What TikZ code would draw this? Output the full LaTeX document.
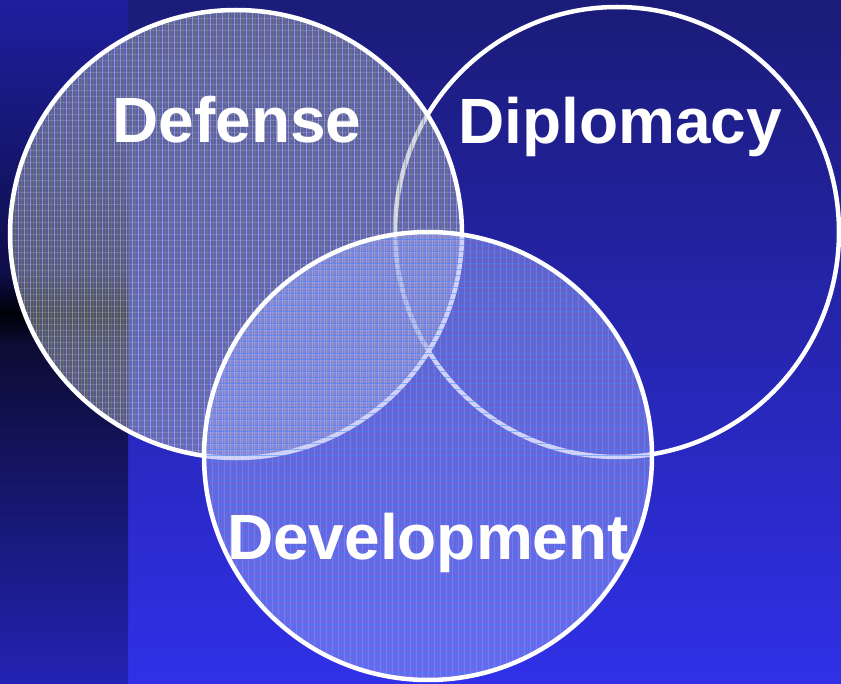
\documentclass[tikz,border=0pt]{standalone}
\usepackage{fontspec}
\setmainfont{Liberation Sans}
\begin{document}
\begin{tikzpicture}[x=1pt,y=-1pt,
  ring/.style={draw=white,line width=4.5pt},
  label/.style={text=white,font=\fontsize{64}{70}\selectfont\bfseries,anchor=base,inner sep=0pt}]
\definecolor{bgtop}{HTML}{1B1B78}
\definecolor{bgbot}{HTML}{3030E8}
\definecolor{ltop}{HTML}{1F1FA0}
\definecolor{lmid}{HTML}{0E0E4A}
\definecolor{lblk}{HTML}{000008}
\definecolor{ldk}{HTML}{0C0C34}
\definecolor{lbot}{HTML}{2323B4}
\definecolor{defill}{HTML}{A0A2CC}
\definecolor{dvfill}{HTML}{A0A4F4}
\definecolor{stripe}{HTML}{6A9A30}
\definecolor{hline}{HTML}{3A80FF}
\useasboundingbox (0,0) rectangle (841,684);
% background
\shade[top color=bgtop,bottom color=bgbot] (0,0) rectangle (841,684);
\shade[top color=ltop,bottom color=lmid] (0,0) rectangle (128,272);
\shade[top color=lmid,bottom color=lblk] (0,271.5) rectangle (128,314);
\shade[top color=lblk,bottom color=ldk] (0,313.5) rectangle (128,345);
\shade[top color=ldk,bottom color=lbot] (0,344.5) rectangle (128,684);
% Diplomacy (outline only)
\draw[ring] (617,232) ellipse [x radius=222,y radius=225];
% Defense
\fill[defill,fill opacity=0.5] (236,234) ellipse [x radius=226,y radius=224];
\begin{scope}
  \clip (236,234) ellipse [x radius=226,y radius=224];
  \foreach \x in {12,18,...,462} {
    \draw[white,opacity=0.3,line width=0.8pt] (\x,0) -- (\x,460);
    \draw[stripe,opacity=0.45,line width=0.8pt] (\x+3,0) -- (\x+3,460);
  }
  \foreach \y in {12,18,...,460}
    \draw[white,opacity=0.15,line width=0.7pt] (0,\y) -- (470,\y);
\end{scope}
\draw[ring] (236,234) ellipse [x radius=226,y radius=224];
% Development
\fill[dvfill,fill opacity=0.5] (428,456) ellipse [x radius=224,y radius=224];
\begin{scope}
  \clip (428,456) ellipse [x radius=224,y radius=224];
  \foreach \y in {234,240,...,684}
    \draw[hline,opacity=0.5,line width=1pt] (200,\y) -- (660,\y);
  \foreach \x in {206,212,...,654}
    \draw[white,opacity=0.12,line width=0.7pt] (\x,230) -- (\x,684);
\end{scope}
\draw[ring] (428,456) ellipse [x radius=224,y radius=224];
% labels
\node[label] (def) at (237,143) {Defense};
\node[label] (dip) at (620,144) {Diplomacy};
\node[label] (dev) at (428,559) {Development};
\end{tikzpicture}
\end{document}
